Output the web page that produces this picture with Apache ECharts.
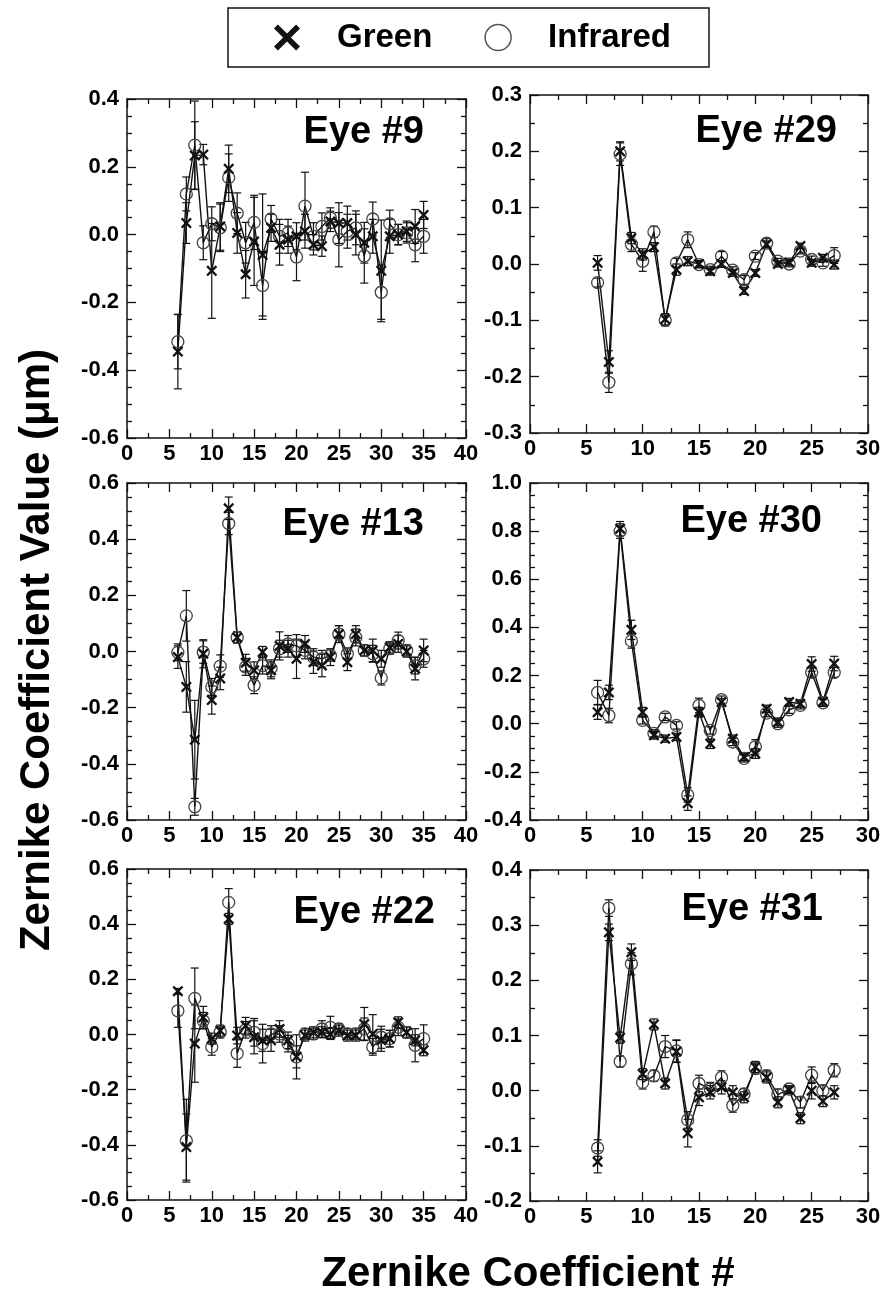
<!DOCTYPE html>
<html>
<head>
<meta charset="utf-8">
<script src="https://cdn.jsdelivr.net/npm/echarts@6/dist/echarts.min.js"></script>
<style>
html, body { margin: 0; padding: 0; background: #fff; }
#main { width: 891px; height: 1302px; }
</style>
</head>
<body>
<div id="main"></div>
<script>
// zernike coefficient numbers (x values)
const coefLong = [6, 7, 8, 9, 10, 11, 12, 13, 14, 15, 16, 17, 18, 19, 20, 21, 22, 23, 24, 25, 26, 27, 28, 29, 30, 31, 32, 33, 34, 35]
const coefShort = [6, 7, 8, 9, 10, 11, 12, 13, 14, 15, 16, 17, 18, 19, 20, 21, 22, 23, 24, 25, 26, 27]

// Eye #9
const eye9Green = [-0.345, 0.034, 0.233, 0.236, -0.107, 0.024, 0.194, 0.005, -0.117, -0.02, -0.06, 0.02, -0.03, -0.015, -0.005, 0.01, -0.03, -0.034, 0.039, 0.034, 0.034, 0.0, -0.024, -0.005, -0.107, -0.005, 0.0, 0.01, 0.024, 0.058]
const eye9GreenErr = [0.11, 0.06, 0.1, 0.03, 0.14, 0.07, 0.07, 0.06, 0.07, 0.13, 0.18, 0.04, 0.06, 0.04, 0.04, 0.05, 0.03, 0.03, 0.03, 0.06, 0.05, 0.06, 0.06, 0.05, 0.15, 0.05, 0.03, 0.03, 0.05, 0.04]
const eye9IR = [-0.316, 0.12, 0.264, -0.024, 0.032, 0.02, 0.168, 0.063, -0.024, 0.036, -0.15, 0.046, -0.005, 0.005, -0.066, 0.084, -0.005, 0.024, 0.049, -0.015, 0.01, 0.02, -0.063, 0.046, -0.17, 0.032, 0.0, 0.005, -0.03, -0.005]
const eye9IRErr = [0.08, 0.05, 0.13, 0.05, 0.05, 0.07, 0.07, 0.06, 0.06, 0.08, 0.1, 0.04, 0.05, 0.04, 0.07, 0.1, 0.04, 0.04, 0.03, 0.08, 0.05, 0.05, 0.08, 0.05, 0.08, 0.04, 0.03, 0.03, 0.05, 0.05]

// Eye #29
const eye29Green = [0.002, -0.174, 0.2, 0.046, 0.017, 0.03, -0.098, -0.01, 0.005, 0.0, -0.013, 0.0, -0.016, -0.048, -0.016, 0.035, 0.0, 0.003, 0.032, 0.002, 0.011, -0.001]
const eye29GreenErr = [0.013, 0.02, 0.017, 0.01, 0.01, 0.008, 0.01, 0.01, 0.008, 0.006, 0.006, 0.006, 0.006, 0.006, 0.006, 0.006, 0.005, 0.005, 0.005, 0.006, 0.006, 0.008]
const eye29IR = [-0.033, -0.21, 0.195, 0.035, 0.005, 0.057, -0.1, 0.002, 0.043, -0.001, -0.01, 0.014, -0.011, -0.028, 0.014, 0.037, 0.005, 0.0, 0.023, 0.008, 0.002, 0.015]
const eye29IRErr = [0.008, 0.018, 0.02, 0.013, 0.018, 0.01, 0.01, 0.008, 0.014, 0.006, 0.006, 0.008, 0.006, 0.008, 0.006, 0.008, 0.005, 0.005, 0.005, 0.006, 0.006, 0.014]

// Eye #13
const eye13Green = [-0.02, -0.126, -0.314, -0.008, -0.173, -0.096, 0.51, 0.05, -0.04, -0.067, -0.002, -0.067, 0.02, 0.01, -0.026, 0.027, -0.038, -0.05, -0.02, 0.062, -0.038, 0.062, 0.004, 0.004, -0.026, 0.015, 0.027, 0.0, -0.061, 0.004]
const eye13GreenErr = [0.04, 0.09, 0.14, 0.05, 0.05, 0.04, 0.04, 0.02, 0.03, 0.03, 0.02, 0.03, 0.05, 0.03, 0.07, 0.03, 0.04, 0.04, 0.03, 0.03, 0.03, 0.03, 0.02, 0.04, 0.03, 0.02, 0.03, 0.02, 0.04, 0.04]
const eye13IR = [-0.003, 0.127, -0.553, -0.002, -0.126, -0.052, 0.456, 0.05, -0.055, -0.12, -0.05, -0.06, 0.01, 0.027, 0.02, 0.004, -0.02, -0.026, -0.014, 0.062, -0.008, 0.05, 0.004, -0.008, -0.094, 0.01, 0.039, 0.004, -0.05, -0.026]
const eye13IRErr = [0.03, 0.09, 0.03, 0.04, 0.03, 0.04, 0.04, 0.02, 0.03, 0.03, 0.03, 0.03, 0.03, 0.03, 0.04, 0.03, 0.03, 0.03, 0.02, 0.03, 0.02, 0.03, 0.02, 0.03, 0.025, 0.02, 0.03, 0.02, 0.03, 0.03]

// Eye #30
const eye30Green = [0.048, 0.13, 0.81, 0.39, 0.048, -0.048, -0.062, -0.055, -0.33, 0.048, -0.083, 0.09, -0.062, -0.138, -0.124, 0.062, 0.007, 0.09, 0.083, 0.248, 0.092, 0.25]
const eye30GreenErr = [0.03, 0.03, 0.03, 0.04, 0.02, 0.015, 0.015, 0.015, 0.03, 0.02, 0.02, 0.015, 0.015, 0.015, 0.02, 0.015, 0.015, 0.015, 0.015, 0.03, 0.015, 0.03]
const eye30IR = [0.13, 0.034, 0.8, 0.344, 0.014, -0.04, 0.028, -0.007, -0.296, 0.076, -0.028, 0.1, -0.076, -0.144, -0.096, 0.044, 0.0, 0.058, 0.076, 0.213, 0.087, 0.213]
const eye30IRErr = [0.05, 0.03, 0.03, 0.03, 0.015, 0.015, 0.015, 0.015, 0.03, 0.03, 0.015, 0.015, 0.015, 0.015, 0.03, 0.015, 0.015, 0.015, 0.015, 0.02, 0.015, 0.02]

// Eye #22
const eye22Green = [0.157, -0.408, -0.033, 0.062, -0.015, 0.014, 0.419, -0.004, 0.032, -0.01, -0.021, -0.021, 0.02, -0.021, -0.081, -0.004, 0.008, 0.008, 0.002, 0.014, -0.004, -0.004, 0.038, 0.002, -0.021, -0.015, 0.044, 0.008, -0.021, -0.057]
const eye22GreenErr = [0.01, 0.12, 0.14, 0.04, 0.02, 0.02, 0.02, 0.03, 0.03, 0.06, 0.04, 0.04, 0.03, 0.03, 0.04, 0.02, 0.02, 0.02, 0.02, 0.02, 0.02, 0.02, 0.06, 0.07, 0.04, 0.03, 0.02, 0.02, 0.02, 0.02]
const eye22IR = [0.086, -0.385, 0.131, 0.05, -0.045, 0.008, 0.479, -0.069, 0.017, 0.008, -0.033, 0.002, 0.002, -0.033, -0.081, 0.002, 0.002, 0.02, 0.026, 0.02, 0.002, 0.002, 0.02, -0.045, -0.01, -0.015, 0.026, 0.008, -0.039, -0.015]
const eye22IRErr = [0.06, 0.15, 0.11, 0.03, 0.03, 0.02, 0.05, 0.05, 0.03, 0.05, 0.07, 0.03, 0.03, 0.03, 0.08, 0.02, 0.02, 0.03, 0.04, 0.02, 0.02, 0.02, 0.04, 0.03, 0.04, 0.03, 0.03, 0.02, 0.06, 0.05]

// Eye #31
const eye31Green = [-0.129, 0.287, 0.096, 0.251, 0.03, 0.12, 0.013, 0.071, -0.077, -0.012, -0.003, 0.006, -0.003, -0.012, 0.043, 0.024, -0.021, 0.001, -0.05, 0.0, -0.019, -0.003]
const eye31GreenErr = [0.02, 0.015, 0.01, 0.015, 0.01, 0.01, 0.01, 0.02, 0.025, 0.015, 0.012, 0.012, 0.012, 0.01, 0.01, 0.01, 0.01, 0.006, 0.01, 0.015, 0.01, 0.012]
const eye31IR = [-0.104, 0.331, 0.053, 0.23, 0.015, 0.027, 0.08, 0.072, -0.053, 0.013, 0.003, 0.024, -0.027, -0.006, 0.04, 0.027, -0.007, 0.003, -0.021, 0.028, 0.0, 0.037]
const eye31IRErr = [0.015, 0.015, 0.01, 0.02, 0.012, 0.01, 0.02, 0.02, 0.015, 0.015, 0.012, 0.012, 0.012, 0.01, 0.01, 0.01, 0.01, 0.006, 0.01, 0.015, 0.01, 0.012]

const FONT = 'Arial, "Liberation Sans", sans-serif'
const INK = '#111'
// bold X marker
const X_PATH = 'path://M3,0 L10,7 L17,0 L20,3 L13,10 L20,17 L17,20 L10,13 L3,20 L0,17 L7,10 L0,3 Z'

// layout of the six panels: [left, top, width, height], title anchor (right edge, middle)
const panels = [
  {name: 'Eye #9', x: coefLong, g: eye9Green, gErr: eye9GreenErr, ir: eye9IR, irErr: eye9IRErr,
    xMax: 40, yMin: -0.6, yMax: 0.4, yStep: 0.2, ySplit: 4, box: [127, 99, 339, 339], title: [424, 133]},
  {name: 'Eye #29', x: coefShort, g: eye29Green, gErr: eye29GreenErr, ir: eye29IR, irErr: eye29IRErr,
    xMax: 30, yMin: -0.3, yMax: 0.3, yStep: 0.1, ySplit: 2, box: [530, 95, 338, 338], title: [837, 132]},
  {name: 'Eye #13', x: coefLong, g: eye13Green, gErr: eye13GreenErr, ir: eye13IR, irErr: eye13IRErr,
    xMax: 40, yMin: -0.6, yMax: 0.6, yStep: 0.2, ySplit: 4, box: [127, 483, 339, 337], title: [424, 525]},
  {name: 'Eye #30', x: coefShort, g: eye30Green, gErr: eye30GreenErr, ir: eye30IR, irErr: eye30IRErr,
    xMax: 30, yMin: -0.4, yMax: 1.0, yStep: 0.2, ySplit: 4, box: [530, 483, 338, 337], title: [822, 522]},
  {name: 'Eye #22', x: coefLong, g: eye22Green, gErr: eye22GreenErr, ir: eye22IR, irErr: eye22IRErr,
    xMax: 40, yMin: -0.6, yMax: 0.6, yStep: 0.2, ySplit: 4, box: [127, 869, 339, 331], title: [435, 913]},
  {name: 'Eye #31', x: coefShort, g: eye31Green, gErr: eye31GreenErr, ir: eye31IR, irErr: eye31IRErr,
    xMax: 30, yMin: -0.2, yMax: 0.4, yStep: 0.1, ySplit: 2, box: [530, 870, 338, 331], title: [823, 910]}
]

function errorBar(params, api) {
  const lo = api.coord([api.value(0), api.value(1)])
  const hi = api.coord([api.value(0), api.value(2)])
  const cap = 4
  const style = {stroke: INK, lineWidth: 1.2}
  return {
    type: 'group',
    children: [
      {type: 'line', shape: {x1: lo[0], y1: lo[1], x2: hi[0], y2: hi[1]}, style: style},
      {type: 'line', shape: {x1: lo[0] - cap, y1: lo[1], x2: lo[0] + cap, y2: lo[1]}, style: style},
      {type: 'line', shape: {x1: hi[0] - cap, y1: hi[1], x2: hi[0] + cap, y2: hi[1]}, style: style}
    ]
  }
}

const tickLine = {color: INK, width: 1.3}
const labelStyle = {color: '#000', fontFamily: FONT, fontWeight: 'bold', fontSize: 22}

const grid = [], xAxis = [], yAxis = [], series = []
panels.forEach((p, i) => {
  grid.push({left: p.box[0], top: p.box[1], width: p.box[2], height: p.box[3]})
  const xBase = {
    type: 'value', gridIndex: i, min: 0, max: p.xMax, interval: 5,
    axisLine: {show: true, onZero: false, lineStyle: {color: INK, width: 1.5}},
    axisTick: {show: true, inside: true, length: 9, lineStyle: tickLine},
    minorTick: {show: true, splitNumber: 2, length: 5, lineStyle: tickLine},
    splitLine: {show: false}
  }
  xAxis.push(Object.assign({}, xBase, {position: 'bottom',
    axisLabel: Object.assign({margin: 5, showMinLabel: true, showMaxLabel: true}, labelStyle)}))
  xAxis.push(Object.assign({}, xBase, {position: 'top', axisLabel: {show: false}}))
  const yBase = {
    type: 'value', gridIndex: i, min: p.yMin, max: p.yMax, interval: p.yStep,
    axisLine: {show: true, onZero: false, lineStyle: {color: INK, width: 1.5}},
    axisTick: {show: true, inside: true, length: 9, lineStyle: tickLine},
    minorTick: {show: true, splitNumber: p.ySplit, length: 5, lineStyle: tickLine},
    splitLine: {show: false}
  }
  yAxis.push(Object.assign({}, yBase, {position: 'left',
    axisLabel: Object.assign({margin: 8, showMinLabel: true, showMaxLabel: true,
      formatter: v => (Math.abs(v) < 1e-9 ? 0 : v).toFixed(1)}, labelStyle)}))
  yAxis.push(Object.assign({}, yBase, {position: 'right', axisLabel: {show: false}}))

  const xi = i * 2, yi = i * 2
  series.push({
    type: 'custom', xAxisIndex: xi, yAxisIndex: yi, renderItem: errorBar, silent: true,
    encode: {x: 0, y: [1, 2]},
    data: p.x.map((c, k) => [c, p.ir[k] - p.irErr[k], p.ir[k] + p.irErr[k]])
  })
  series.push({
    type: 'custom', xAxisIndex: xi, yAxisIndex: yi, renderItem: errorBar, silent: true,
    encode: {x: 0, y: [1, 2]},
    data: p.x.map((c, k) => [c, p.g[k] - p.gErr[k], p.g[k] + p.gErr[k]])
  })
  series.push({
    name: 'Infrared', type: 'line', xAxisIndex: xi, yAxisIndex: yi,
    data: p.x.map((c, k) => [c, p.ir[k]]),
    symbol: 'circle', symbolSize: 12,
    itemStyle: {color: 'rgba(255,255,255,0)', borderColor: '#444', borderWidth: 1.3},
    lineStyle: {color: INK, width: 1.4}
  })
  series.push({
    name: 'Green', type: 'line', xAxisIndex: xi, yAxisIndex: yi,
    data: p.x.map((c, k) => [c, p.g[k]]),
    symbol: X_PATH, symbolSize: 11,
    itemStyle: {color: INK},
    lineStyle: {color: INK, width: 1.4}
  })
})

const graphic = panels.map(p => ({
  type: 'text', x: p.title[0], y: p.title[1],
  style: {text: p.name, font: 'bold 38px ' + FONT, fill: '#000',
    align: 'right', verticalAlign: 'middle', textAlign: 'right', textVerticalAlign: 'middle'}
}))
graphic.push({
  type: 'text', x: 37, y: 650, rotation: Math.PI / 2,
  style: {text: 'Zernike Coefficient Value (\u03bcm)', font: 'bold 42px ' + FONT, fill: '#000',
    align: 'center', verticalAlign: 'middle', textAlign: 'center', textVerticalAlign: 'middle'}
})
graphic.push({
  type: 'text', x: 528, y: 1274,
  style: {text: 'Zernike Coefficient #', font: 'bold 42px ' + FONT, fill: '#000',
    align: 'center', verticalAlign: 'middle', textAlign: 'center', textVerticalAlign: 'middle'}
})

const myChart = echarts.init(document.getElementById('main'))
myChart.setOption({
  animation: false,
  backgroundColor: '#fff',
  legend: {
    left: 228, top: 8,
    padding: [13, 38, 13, 46],
    itemGap: 52, itemWidth: 26, itemHeight: 26,
    borderColor: INK, borderWidth: 1.5,
    textStyle: {color: '#000', fontFamily: FONT, fontWeight: 'bold', fontSize: 33, padding: [0, 0, 0, 32]},
    data: [
      {name: 'Green', icon: X_PATH, itemStyle: {color: INK}},
      {name: 'Infrared', icon: 'circle', itemStyle: {color: 'rgba(255,255,255,0)', borderColor: '#555', borderWidth: 1.5}}
    ]
  },
  grid: grid,
  xAxis: xAxis,
  yAxis: yAxis,
  series: series,
  graphic: graphic
})
</script>
</body>
</html>
